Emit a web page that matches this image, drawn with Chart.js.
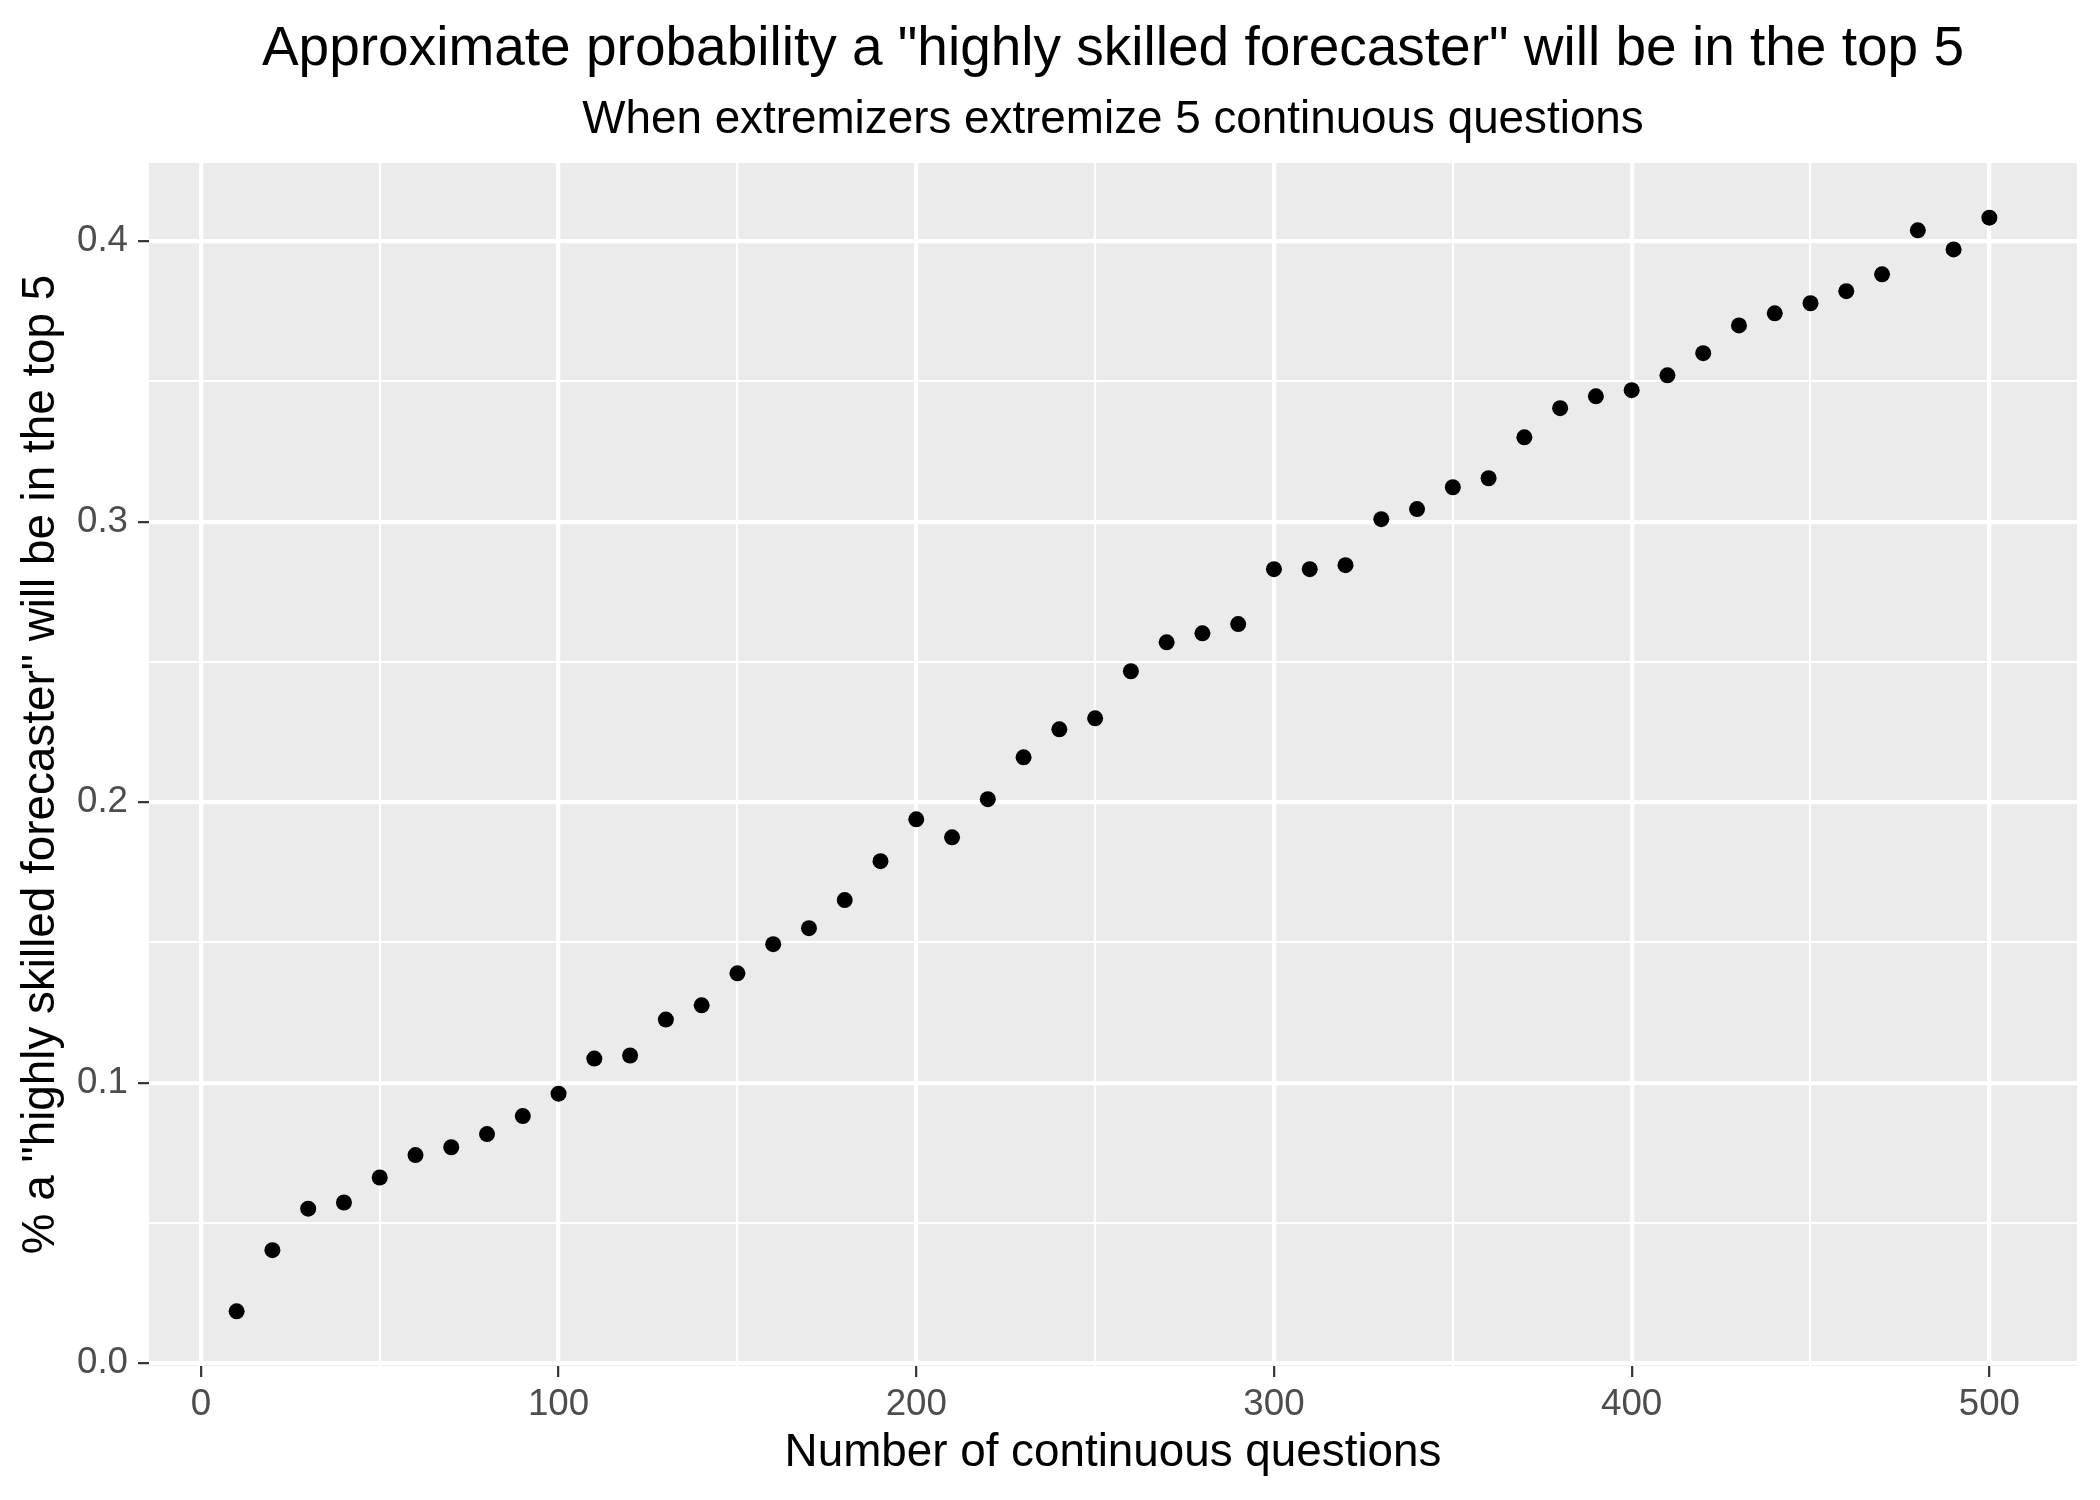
<!DOCTYPE html>
<html>
<head>
<meta charset="utf-8">
<script src="https://cdn.jsdelivr.net/npm/chart.js@4.4.0/dist/chart.umd.min.js"></script>
<style>
html, body { margin: 0; padding: 0; background: #ffffff; }
#wrap { width: 2100px; height: 1500px; }
</style>
</head>
<body>
<div id="wrap"><canvas id="chart" width="2100" height="1500"></canvas></div>
<script>
// datos
var questions = [10, 20, 30, 40, 50, 60, 70, 80, 90, 100,
                 110, 120, 130, 140, 150, 160, 170, 180, 190, 200,
                 210, 220, 230, 240, 250, 260, 270, 280, 290, 300,
                 310, 320, 330, 340, 350, 360, 370, 380, 390, 400,
                 410, 420, 430, 440, 450, 460, 470, 480, 490, 500];
var probTop5 = [0.0185, 0.0403, 0.0551, 0.0573, 0.0662, 0.0742, 0.0770, 0.0817, 0.0881, 0.0961,
                0.1086, 0.1097, 0.1225, 0.1276, 0.1390, 0.1494, 0.1551, 0.1651, 0.1790, 0.1939,
                0.1875, 0.2011, 0.2160, 0.2260, 0.2299, 0.2467, 0.2570, 0.2602, 0.2635, 0.2831,
                0.2831, 0.2845, 0.3009, 0.3045, 0.3123, 0.3155, 0.3301, 0.3405, 0.3447, 0.3469,
                0.3522, 0.3601, 0.3700, 0.3743, 0.3779, 0.3822, 0.3882, 0.4039, 0.3971, 0.4084];
var xTickLabels = [0, 100, 200, 300, 400, 500];
var yTickLabels = [0.0, 0.1, 0.2, 0.3, 0.4];

var chartTitle = 'Approximate probability a "highly skilled forecaster" will be in the top 5';
var chartSubtitle = 'When extremizers extremize 5 continuous questions';
var xTitle = 'Number of continuous questions';
var yTitle = '% a "highly skilled forecaster" will be in the top 5';

var FONT = '"Liberation Sans", Arial, sans-serif';

// expansion 5% como ggplot
var xMinData = Math.min.apply(null, questions), xMaxData = Math.max.apply(null, questions);
var yMinData = Math.min.apply(null, probTop5), yMaxData = Math.max.apply(null, probTop5);
var xPad = (xMaxData - xMinData) * 0.05;
var yPad = (yMaxData - yMinData) * 0.05;

var points = questions.map(function(q, i) { return { x: q, y: probTop5[i] }; });

function isMajorX(v) { return xTickLabels.indexOf(Math.round(v)) !== -1; }
function isMajorY(v) {
    return yTickLabels.some(function(t) { return Math.abs(t - v) < 1e-6; });
}

// fondo gris del panel
var panelBg = {
    id: 'panelBg',
    beforeDraw: function(chart) {
        var ctx = chart.ctx, a = chart.chartArea;
        ctx.save();
        ctx.fillStyle = '#ffffff';
        ctx.fillRect(0, 0, chart.width, chart.height);
        ctx.fillStyle = '#EBEBEB';
        ctx.fillRect(a.left, a.top, a.right - a.left, a.bottom - a.top);
        ctx.restore();
    }
};

// titulo y subtitulo centrados sobre el panel
var ggTitles = {
    id: 'ggTitles',
    afterDraw: function(chart) {
        var ctx = chart.ctx, a = chart.chartArea;
        var cx = (a.left + a.right) / 2;
        ctx.save();
        ctx.fillStyle = '#000000';
        ctx.textAlign = 'center';
        ctx.textBaseline = 'alphabetic';
        ctx.font = '55px ' + FONT;
        ctx.fillText(chartTitle, cx, 65);
        ctx.font = '45.8px ' + FONT;
        ctx.fillText(chartSubtitle, cx, 133);
        ctx.restore();
    }
};

new Chart(document.getElementById('chart').getContext('2d'), {
    type: 'scatter',
    data: {
        datasets: [{
            label: 'prob',
            data: points,
            backgroundColor: '#000000',
            borderWidth: 0,
            pointRadius: 8,
            pointHoverRadius: 8
        }]
    },
    options: {
        responsive: false,
        devicePixelRatio: 1,
        animation: false,
        layout: { padding: { top: 163, left: 0, right: 23, bottom: 0 } },
        plugins: {
            legend: { display: false },
            tooltip: { enabled: false }
        },
        scales: {
            x: {
                type: 'linear',
                min: xMinData - xPad,
                max: xMaxData + xPad,
                afterFit: function(scale) { scale.height = 134; },
                border: { display: false },
                grid: {
                    color: '#ffffff',
                    lineWidth: function(c) { return isMajorX(c.tick.value) ? 4.3 : 2.1; },
                    tickColor: function(c) { return isMajorX(c.tick.value) ? '#333333' : 'rgba(0,0,0,0)'; },
                    tickLength: 11,
                    tickWidth: 2.2
                },
                ticks: {
                    stepSize: 50,
                    includeBounds: false,
                    autoSkip: false,
                    maxRotation: 0,
                    padding: 6,
                    color: '#4D4D4D',
                    font: { family: FONT, size: 36.7 },
                    callback: function(v) { return isMajorX(v) ? String(Math.round(v)) : ''; }
                },
                title: {
                    display: true,
                    text: xTitle,
                    color: '#000000',
                    font: { family: FONT, size: 45.8 },
                    padding: { top: 0, bottom: 19.5 }
                }
            },
            y: {
                type: 'linear',
                min: yMinData - yPad,
                max: yMaxData + yPad,
                afterFit: function(scale) { scale.width = 149; },
                border: { display: false },
                grid: {
                    color: '#ffffff',
                    lineWidth: function(c) { return isMajorY(c.tick.value) ? 4.3 : 2.1; },
                    tickColor: function(c) { return isMajorY(c.tick.value) ? '#333333' : 'rgba(0,0,0,0)'; },
                    tickLength: 11,
                    tickWidth: 2.2
                },
                ticks: {
                    stepSize: 0.05,
                    includeBounds: false,
                    autoSkip: false,
                    padding: 10,
                    color: '#4D4D4D',
                    font: { family: FONT, size: 36.7 },
                    callback: function(v) { return isMajorY(v) ? v.toFixed(1) : ''; }
                },
                title: {
                    display: true,
                    text: yTitle,
                    color: '#000000',
                    font: { family: FONT, size: 45.8 },
                    padding: { top: 13.5, bottom: 0 }
                }
            }
        }
    },
    plugins: [panelBg, ggTitles]
});
</script>
</body>
</html>
